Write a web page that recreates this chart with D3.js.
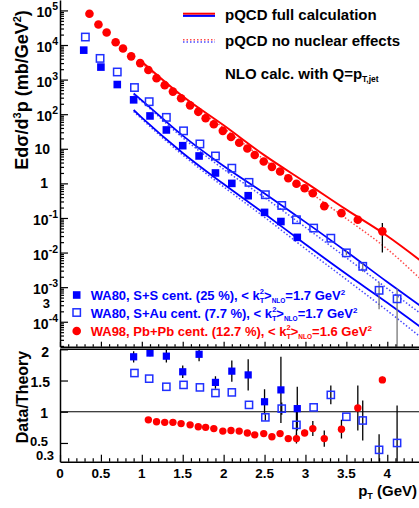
<!DOCTYPE html>
<html>
<head>
<meta charset="utf-8">
<script src="https://cdn.jsdelivr.net/npm/d3@7"></script>
<style>
body { margin: 0; background: #fff; }
svg { display: block; font-family: "Liberation Sans", Arial, sans-serif; font-weight: bold; }
</style>
</head>
<body>
<div class="svg-container"></div>
<script>
var width = 419,
  height = 508;

// WA98 Pb+Pb central (red circles)
var wa98Pt = [0.36, 0.47, 0.57, 0.68, 0.77, 0.87, 0.98, 1.08, 1.18, 1.28, 1.38, 1.48, 1.59, 1.69, 1.78, 1.88,
  1.99, 2.09, 2.19, 2.29, 2.38, 2.49, 2.59, 2.69, 2.79, 2.89, 2.99, 3.09, 3.23, 3.44, 3.64, 3.94];
var wa98Yield = [8.0e4, 3.9e4, 2.3e4, 1.2e4, 7.9e3, 4.7e3, 3.0e3, 1.9e3, 1.1e3, 690, 450, 290, 180, 117, 76, 51,
  33, 22, 15, 10.2, 6.6, 4.3, 3.0, 2.2, 1.41, 0.98, 0.72, 0.52, 0.22, 0.138, 0.089, 0.041];
var wa98Err = [0, 0, 0, 0, 0, 0, 0, 0, 0, 0, 0, 0, 0, 0, 0, 0,
  0, 0, 0, 0, 0, 0, 0, 0, 0, 0, 0, 0, 0.04, 0.03, 0.015, 0.031];
var wa98Ratio = [null, null, null, null, null, null, null, 0.87, 0.84, 0.83, 0.83, 0.81, 0.79, 0.76, 0.75, 0.73,
  0.69, 0.70, 0.69, 0.66, 0.63, 0.65, 0.60, 0.65, 0.57, 0.57, 0.66, 0.73, 0.57, 0.72, 1.06, 1.51];
var wa98RatioErr = [0, 0, 0, 0, 0, 0, 0, 0, 0, 0, 0, 0, 0, 0, 0, 0,
  0, 0, 0, 0, 0, 0, 0, 0, 0, 0.08, 0.05, 0.12, 0.13, 0.15, 0.36, 0.05];

// WA80 S+S central (filled squares)
var ssPt = [0.29, 0.50, 0.70, 0.90, 1.10, 1.30, 1.50, 1.70, 1.90, 2.10, 2.30, 2.50, 2.70, 2.90];
var ssYield = [7.1e3, 2.3e3, 720, 260, 89, 35, 12.3, 6.2, 2.0, 1.0, 0.44, 0.145, 0.079, 0.0275];
var ssRatio = [null, null, null, 1.88, 1.94, 1.89, 1.64, 1.92, 1.47, 1.65, 1.59, 1.16, 1.35, 1.05];
var ssRatioErr = [0, 0, 0, 0.09, 0.05, 0.1, 0.1, 0.11, 0.1, 0.17, 0.25, 0.2, 0.53, 0.35];

// WA80 S+Au central (open squares)
var sauPt = [0.31, 0.49, 0.70, 0.91, 1.09, 1.30, 1.51, 1.71, 1.90, 2.10, 2.31, 2.51, 2.71, 2.89, 3.10, 3.31,
  3.50, 3.70, 3.90, 4.12];
var sauYield = [1.7e4, 4.1e3, 1.66e3, 590, 230, 81, 33, 13.8, 6.2, 2.75, 1.07, 0.47, 0.23, 0.089, 0.051, 0.026,
  0.0098, 0.0040, 8.1e-4, 4.6e-4];
var sauErr = [0, 0, 0, 0, 0, 0, 0, 0, 0, 0, 0, 0, 0, 0, 0, 0, 0.0015, 0.0012, 5.8e-4, 4.5e-4];
var sauRatio = [null, null, null, 1.62, 1.53, 1.40, 1.43, 1.39, 1.30, 1.31, 1.11, 0.91, 1.05, 0.79, 1.07, 1.27,
  0.92, 0.86, 0.39, 0.50];
var sauRatioErr = [0, 0, 0, 0, 0, 0, 0, 0, 0, 0, 0, 0.05, 0.1, 0.25, 0, 0.15, 0, 0.32, 0.25, 0.6];

// pQCD curves
var thPt = [0.9, 1.0, 1.5, 2.0, 2.5, 3.0, 3.5, 4.0, 4.4];
var thPbFull = [null, 3311, 331, 47.9, 6.46, 1.07, 0.174, 0.0302, 0.00603];
var thPbNoNucl = [null, 3020, 295, 39.8, 4.79, 0.676, 0.0955, 0.0126, 0.00178];
var thAuFull = [398, 251, 24.0, 3.16, 0.513, 0.0759, 0.0107, 0.00141, 0.000295];
var thAuNoNucl = [372, 234, 20.9, 2.57, 0.389, 0.0537, 0.00708, 0.000912, 0.000178];
var thSFull = [132, 79.4, 7.59, 0.955, 0.132, 0.0174, 0.0024, 0.000355, 0.0000724];
var thSNoNucl = [120, 72.4, 6.61, 0.794, 0.105, 0.0129, 0.00166, 0.000209, 0.0000372];

var xTicks = [0, 0.5, 1, 1.5, 2, 2.5, 3, 3.5, 4];
var xTickLabels = ["0", "0.5", "1", "1.5", "2", "2.5", "3", "3.5", "4"];
var yDecades = [-4, -3, -2, -1, 0, 1, 2, 3, 4, 5];
var ratioTicks = [0.5, 1, 1.5, 2];

var red = "#ff0000", blue = "#0000ff";

var svg = d3.select(".svg-container").append("svg")
  .attr("width", width)
  .attr("height", height);

svg.append("rect").attr("width", width).attr("height", height).attr("fill", "#fff");

var x = d3.scaleLinear().domain([0, 4.4]).range([60, 420]);
var yTop = d3.scaleLog().domain([1.9e-5, 2e5]).range([346.7, 0]);
var yBot = d3.scaleLinear().domain([0.2, 2.0]).range([461.7, 349.3]);

var defs = svg.append("defs");
defs.append("clipPath").attr("id", "clipTop").append("rect")
  .attr("x", 60).attr("y", 0).attr("width", 360).attr("height", 346.7);
defs.append("clipPath").attr("id", "clipBot").append("rect")
  .attr("x", 60).attr("y", 349.3).attr("width", 360).attr("height", 112.4);

var mk = function(pt, vals, errs) {
  return pt.map(function(p, i) {
    return {x: p, y: vals[i], e: errs ? errs[i] : 0};
  }).filter(function(d) { return d.y != null; });
};

// ---------- upper panel ----------
var gTop = svg.append("g").attr("clip-path", "url(#clipTop)");

var line = d3.line()
  .defined(function(d) { return d.y != null; })
  .x(function(d) { return x(d.x); })
  .y(function(d) { return yTop(d.y); })
  .curve(d3.curveMonotoneX);

var curves = [
  {v: thPbNoNucl, c: "#ff4a4a", dash: "1.5,2", w: 1.5},
  {v: thAuNoNucl, c: "#4a4aff", dash: "1.5,2", w: 1.5},
  {v: thSNoNucl, c: "#4a4aff", dash: "1.5,2", w: 1.5},
  {v: thPbFull, c: red, dash: null, w: 2},
  {v: thAuFull, c: blue, dash: null, w: 1.8},
  {v: thSFull, c: blue, dash: null, w: 1.8}
];
curves.forEach(function(cv) {
  gTop.append("path")
    .datum(thPt.map(function(p, i) { return {x: p, y: cv.v[i]}; }))
    .attr("d", line)
    .attr("fill", "none")
    .attr("stroke", cv.c)
    .attr("stroke-width", cv.w)
    .attr("stroke-dasharray", cv.dash);
});

var errBars = function(g, data, yScale, floor, color) {
  g.selectAll(null)
    .data(data.filter(function(d) { return d.e > 0; }))
    .enter().append("line")
    .attr("x1", function(d) { return x(d.x); })
    .attr("x2", function(d) { return x(d.x); })
    .attr("y1", function(d) { return yScale(Math.max(d.y - d.e, floor)); })
    .attr("y2", function(d) { return yScale(d.y + d.e); })
    .attr("stroke", color)
    .attr("stroke-width", 1.3);
};

var wa98Top = mk(wa98Pt, wa98Yield, wa98Err);
var ssTop = mk(ssPt, ssYield, null);
var sauTop = mk(sauPt, sauYield, sauErr);

errBars(gTop, wa98Top, yTop, 1e-7, "#000");
errBars(gTop, sauTop, yTop, 1e-7, "#777");

gTop.selectAll(".ss").data(ssTop).enter().append("rect")
  .attr("x", function(d) { return x(d.x) - 3.8; })
  .attr("y", function(d) { return yTop(d.y) - 3.8; })
  .attr("width", 7.6).attr("height", 7.6)
  .attr("fill", blue);

gTop.selectAll(".sau").data(sauTop).enter().append("rect")
  .attr("x", function(d) { return x(d.x) - 3.7; })
  .attr("y", function(d) { return yTop(d.y) - 3.7; })
  .attr("width", 7.4).attr("height", 7.4)
  .attr("fill", "none").attr("stroke", "#2030ff").attr("stroke-width", 1.5);

gTop.selectAll(".pb").data(wa98Top).enter().append("circle")
  .attr("cx", function(d) { return x(d.x); })
  .attr("cy", function(d) { return yTop(d.y); })
  .attr("r", 4.3)
  .attr("fill", red);

// ---------- lower panel ----------
var gBot = svg.append("g").attr("clip-path", "url(#clipBot)");

gBot.append("line")
  .attr("x1", x(0)).attr("x2", x(4.4))
  .attr("y1", yBot(1)).attr("y2", yBot(1))
  .attr("stroke", "#000").attr("stroke-width", 1.2);

var wa98Bot = mk(wa98Pt, wa98Ratio, wa98RatioErr);
var ssBot = mk(ssPt, ssRatio, ssRatioErr);
var sauBot = mk(sauPt, sauRatio, sauRatioErr);

errBars(gBot, ssBot, yBot, 0, "#000");
errBars(gBot, sauBot, yBot, 0, "#000");
errBars(gBot, wa98Bot, yBot, 0, "#000");

gBot.selectAll(".ssr").data(ssBot).enter().append("rect")
  .attr("x", function(d) { return x(d.x) - 3.6; })
  .attr("y", function(d) { return yBot(d.y) - 3.6; })
  .attr("width", 7.2).attr("height", 7.2)
  .attr("fill", blue);

gBot.selectAll(".saur").data(sauBot).enter().append("rect")
  .attr("x", function(d) { return x(d.x) - 3.6; })
  .attr("y", function(d) { return yBot(d.y) - 3.6; })
  .attr("width", 7.2).attr("height", 7.2)
  .attr("fill", "none").attr("stroke", "#2030ff").attr("stroke-width", 1.5);

gBot.selectAll(".pbr").data(wa98Bot).enter().append("circle")
  .attr("cx", function(d) { return x(d.x); })
  .attr("cy", function(d) { return yBot(d.y); })
  .attr("r", 3.7)
  .attr("fill", red);

// ---------- axes ----------
var minorX = d3.range(0, 4.41, 0.1).filter(function(v) { return Math.abs(v * 2 - Math.round(v * 2)) > 1e-6; });
var minorY = [];
for (var e = -5; e <= 5; e++) {
  for (var k = 2; k <= 9; k++) {
    var v = k * Math.pow(10, e);
    if (v > 1.9e-5 && v < 2e5) minorY.push(v);
  }
}

var styleAxis = function(g) {
  g.selectAll("path.domain").attr("stroke", "#000").attr("stroke-width", 1.5);
  g.selectAll(".tick line").attr("stroke", "#000").attr("stroke-width", 1.2);
  g.selectAll("text").remove();
};

// top panel x axis (ticks only)
svg.append("g").attr("transform", "translate(0,346.7)")
  .call(d3.axisBottom(x).tickValues(xTicks).tickSize(-5).tickSizeOuter(0))
  .call(styleAxis);
svg.append("g").attr("transform", "translate(0,346.7)")
  .call(d3.axisBottom(x).tickValues(minorX).tickSize(-2.5).tickSizeOuter(0))
  .call(styleAxis).select(".domain").remove();

// lower panel frame top
svg.append("line").attr("x1", 60).attr("x2", 420).attr("y1", 349.3).attr("y2", 349.3)
  .attr("stroke", "#000").attr("stroke-width", 1.5);

// lower panel x axis
svg.append("g").attr("transform", "translate(0,461.7)")
  .call(d3.axisBottom(x).tickValues(xTicks).tickSize(-7).tickSizeOuter(0))
  .call(styleAxis);
svg.append("g").attr("transform", "translate(0,461.7)")
  .call(d3.axisBottom(x).tickValues(minorX).tickSize(-3.5).tickSizeOuter(0))
  .call(styleAxis).select(".domain").remove();

svg.append("g").selectAll("text").data(xTicks).enter().append("text")
  .attr("x", function(d) { return x(d); })
  .attr("y", 478)
  .attr("text-anchor", "middle")
  .attr("font-size", 13.5)
  .text(function(d, i) { return xTickLabels[i]; });

// upper y axis
svg.append("g").attr("transform", "translate(60,0)")
  .call(d3.axisLeft(yTop).tickValues(yDecades.map(function(d) { return Math.pow(10, d); }))
    .tickSize(-8).tickSizeOuter(0))
  .call(styleAxis);
svg.append("g").attr("transform", "translate(60,0)")
  .call(d3.axisLeft(yTop).tickValues(minorY).tickSize(-4).tickSizeOuter(0))
  .call(styleAxis).select(".domain").remove();

var yLab = svg.append("g").attr("font-size", 14);
yDecades.forEach(function(d) {
  var ty = yTop(Math.pow(10, d));
  if (d === 0 || d === 1) {
    yLab.append("text").attr("x", d === 0 ? 48 : 50).attr("y", ty + 5)
      .attr("text-anchor", "end").text(d === 0 ? "1" : "10");
  } else {
    var t = yLab.append("text").attr("x", 58).attr("y", ty + 7).attr("text-anchor", "end");
    t.append("tspan").text("10");
    t.append("tspan").attr("dy", -7).attr("font-size", 10.5).text(String(d));
  }
});
yLab.append("text").attr("x", 50).attr("y", 308).attr("font-size", 13).attr("text-anchor", "end").text("3");

// lower y axis
svg.append("g").attr("transform", "translate(60,0)")
  .call(d3.axisLeft(yBot).tickValues(ratioTicks).tickSize(-8).tickSizeOuter(0))
  .call(styleAxis);

var rLab = svg.append("g").attr("font-size", 14).attr("text-anchor", "end");
rLab.append("text").attr("x", 49).attr("y", 356.5).text("2");
rLab.append("text").attr("x", 50).attr("y", 386.5).text("1.5");
rLab.append("text").attr("x", 48).attr("y", 418).text("1");
rLab.append("text").attr("x", 48).attr("y", 445.5).attr("font-size", 13).text("0.5");
rLab.append("text").attr("x", 54).attr("y", 459.5).attr("font-size", 13).text("0.3");

// axis titles
var xt = svg.append("text").attr("x", 417).attr("y", 496).attr("text-anchor", "end").attr("font-size", 15);
xt.append("tspan").text("p");
xt.append("tspan").attr("font-size", 9).attr("dy", 3).text("T");
xt.append("tspan").attr("dy", -3).text(" (GeV)");

var yt = svg.append("text").attr("transform", "translate(28,90) rotate(-90)")
  .attr("text-anchor", "middle").attr("font-size", 18);
yt.append("tspan").text("Ed\u03c3/d");
yt.append("tspan").attr("font-size", 11).attr("dy", -7).text("3");
yt.append("tspan").attr("dy", 7).text("p (mb/GeV");
yt.append("tspan").attr("font-size", 11).attr("dy", -7).text("2");
yt.append("tspan").attr("dy", 7).text(")");

svg.append("text").attr("transform", "translate(28,397) rotate(-90)")
  .attr("text-anchor", "middle").attr("font-size", 16).text("Data/Theory");

// ---------- top-right legend ----------
var lg = svg.append("g");
lg.append("line").attr("x1", 183).attr("x2", 215).attr("y1", 13.7).attr("y2", 13.7)
  .attr("stroke", red).attr("stroke-width", 2);
lg.append("line").attr("x1", 183).attr("x2", 215).attr("y1", 15.9).attr("y2", 15.9)
  .attr("stroke", blue).attr("stroke-width", 2);
lg.append("line").attr("x1", 183).attr("x2", 215).attr("y1", 39.7).attr("y2", 39.7)
  .attr("stroke", "#ff4a4a").attr("stroke-width", 1.5).attr("stroke-dasharray", "1.5,2");
lg.append("line").attr("x1", 183).attr("x2", 215).attr("y1", 41.9).attr("y2", 41.9)
  .attr("stroke", "#4a4aff").attr("stroke-width", 1.5).attr("stroke-dasharray", "1.5,2");
lg.append("text").attr("x", 225).attr("y", 20).attr("font-size", 15).text("pQCD full calculation");
lg.append("text").attr("x", 225).attr("y", 46).attr("font-size", 15).text("pQCD no nuclear effects");
var nlo = lg.append("text").attr("x", 225).attr("y", 79).attr("font-size", 15);
nlo.append("tspan").text("NLO calc. with Q=p");
nlo.append("tspan").attr("font-size", 8.5).attr("dy", 3).text("T,jet");

// ---------- data legend ----------
var legRows = [
  {label: "WA80, S+S cent. (25 %), < k", val: "1.7", c: blue, y: 295, m: "fill"},
  {label: "WA80, S+Au cent. (7.7 %), < k", val: "1.7", c: blue, y: 312.5, m: "open"},
  {label: "WA98, Pb+Pb cent. (12.7 %), < k", val: "1.6", c: red, y: 331, m: "circle"}
];
legRows.forEach(function(r) {
  if (r.m === "fill") {
    svg.append("rect").attr("x", 72.9).attr("y", r.y - 3.8).attr("width", 7.6).attr("height", 7.6).attr("fill", blue);
  } else if (r.m === "open") {
    svg.append("rect").attr("x", 73).attr("y", r.y - 3.7).attr("width", 7.4).attr("height", 7.4)
      .attr("fill", "none").attr("stroke", "#2030ff").attr("stroke-width", 1.5);
  } else {
    svg.append("circle").attr("cx", 76.7).attr("cy", r.y).attr("r", 4.3).attr("fill", red);
  }
  var t = svg.append("text").attr("x", 90.7).attr("y", r.y + 5).attr("font-size", 13).attr("fill", r.c);
  t.append("tspan").text(r.label);
  t.append("tspan").attr("font-size", 7.5).attr("dy", 3).text("T");
  t.append("tspan").attr("font-size", 7.5).attr("dx", -4.5).attr("dy", -9).text("2");
  t.append("tspan").attr("dy", 6).text(">");
  t.append("tspan").attr("font-size", 6.5).attr("dy", 3).text("NLO");
  t.append("tspan").attr("dy", -3).text("=" + r.val + " GeV");
  t.append("tspan").attr("font-size", 8).attr("dy", -5).text("2");
});
</script>
</body>
</html>
